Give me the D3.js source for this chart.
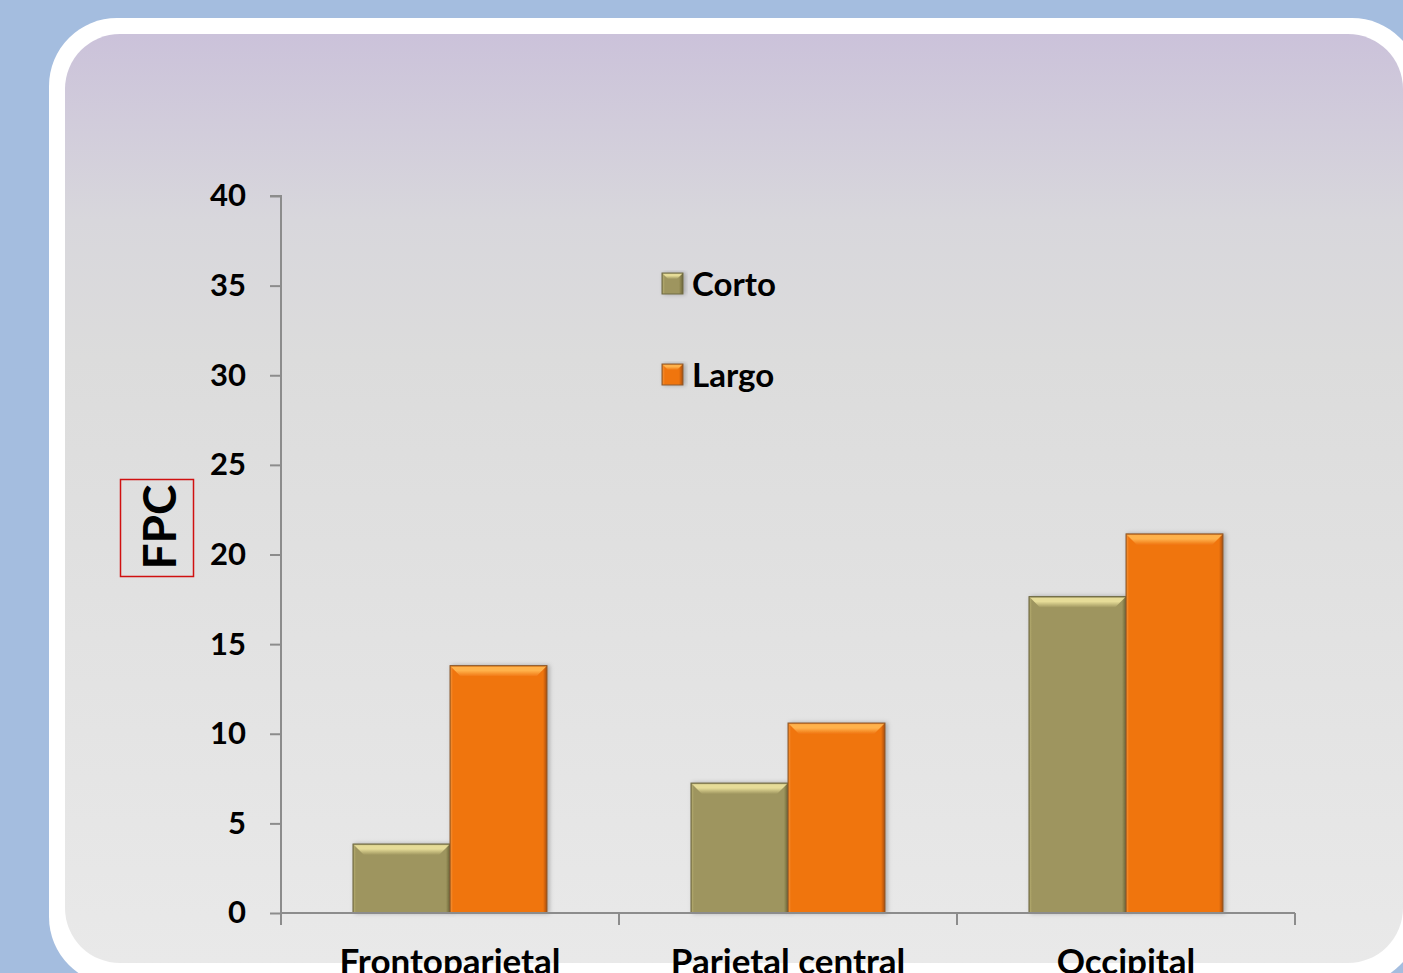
<!DOCTYPE html>
<html><head><meta charset="utf-8">
<script src="https://cdn.jsdelivr.net/npm/d3@7/dist/d3.min.js"></script>
<style>html,body{margin:0;padding:0;background:#a4bddf;overflow:hidden}</style>
</head><body>
<svg id="c" width="1403" height="973"></svg>
<script>
const categories = ["Frontoparietal", "Parietal central", "Occipital"];
const seriesNames = ["Corto", "Largo"];
const corto = [3.85, 7.25, 17.65];
const largo = [13.8, 10.6, 21.15];
const yTicks = [0, 5, 10, 15, 20, 25, 30, 35, 40];

const svg = d3.select("#c");
const defs = svg.append("defs");
const font = "Lato, 'Liberation Sans', sans-serif";

// background
svg.append("rect").attr("width",1403).attr("height",973).attr("fill","#a4bddf");
const pg = defs.append("linearGradient").attr("id","panel").attr("x1",0).attr("y1",0).attr("x2",0).attr("y2",1);
[[0,"#cbc2da"],[0.2,"#d8d7dc"],[0.35,"#dcdcdc"],[1,"#e9e9e9"]].forEach(s=>pg.append("stop").attr("offset",s[0]).attr("stop-color",s[1]));
svg.append("rect").attr("x",49).attr("y",18).attr("width",1371).attr("height",967).attr("rx",68).attr("fill","#ffffff");
svg.append("rect").attr("x",65).attr("y",34).attr("width",1338).attr("height",929).attr("rx",55).attr("fill","url(#panel)");

const y = d3.scaleLinear().domain([0,40]).range([913,196]);
const x0 = d3.scaleBand().domain(categories).range([281,1295]);
const x1 = d3.scaleBand().domain(seriesNames).range([0,x0.bandwidth()]).paddingInner(0).paddingOuter(0.742);

const colors = {
  Corto: {base:"#9e955e", light:"#e6dc98", dark:"#8a8250", side:"#b0a76c", rdark:"#6c6637", edge:"#6f6a45"},
  Largo: {base:"#f07410", light:"#ffb24c", dark:"#d86808", side:"#f38a2a", rdark:"#a84d06", edge:"#8a5a30"}
};
seriesNames.forEach(n=>{
  const c = colors[n];
  const g = defs.append("linearGradient").attr("id","top"+n).attr("x1",0).attr("y1",0).attr("x2",0).attr("y2",1);
  [[0,c.dark],[0.15,c.light],[0.45,c.light],[1,c.base]].forEach(s=>g.append("stop").attr("offset",s[0]).attr("stop-color",s[1]));
  const r = defs.append("linearGradient").attr("id","right"+n).attr("x1",0).attr("y1",0).attr("x2",1).attr("y2",0);
  [[0,c.base],[1,c.rdark]].forEach(s=>r.append("stop").attr("offset",s[0]).attr("stop-color",s[1]));
  const l = defs.append("linearGradient").attr("id","left"+n).attr("x1",0).attr("y1",0).attr("x2",1).attr("y2",0);
  [[0,c.dark],[0.4,c.side],[1,c.base]].forEach(s=>l.append("stop").attr("offset",s[0]).attr("stop-color",s[1]));
});
const sh = defs.append("filter").attr("id","shadow").attr("x","-10%").attr("y","-10%").attr("width","130%").attr("height","130%");
sh.append("feDropShadow").attr("dx",2).attr("dy",0).attr("stdDeviation",2).attr("flood-color","#000").attr("flood-opacity",0.25);

// axes
const yAxis = d3.axisLeft(y).tickValues(yTicks).tickSize(11).tickPadding(24);
const ga = svg.append("g").attr("transform","translate(281,0)").call(yAxis);
ga.select(".domain").attr("stroke","#8c8c8c").attr("stroke-width",2).attr("d","M-11,196H0V913");
ga.selectAll(".tick line").attr("stroke","#8c8c8c").attr("stroke-width",2);
ga.selectAll(".tick text").attr("font-family",font).attr("font-weight","bold").attr("font-size",31).attr("fill","#000");

function bevelBar(g, x, yTop, w, h, n, t){
  const c = colors[n], s = 3;
  t = Math.min(t, h, w/2);
  const bg = g.append("g").attr("filter","url(#shadow)");
  bg.append("rect").attr("x",x).attr("y",yTop).attr("width",w).attr("height",h).attr("fill",c.base);
  bg.append("rect").attr("x",x).attr("y",yTop).attr("width",s).attr("height",h).attr("fill","url(#left"+n+")");
  bg.append("rect").attr("x",x+w-s-1).attr("y",yTop).attr("width",s+1).attr("height",h).attr("fill","url(#right"+n+")");
  bg.append("polygon").attr("points",[[x,yTop],[x+w,yTop],[x+w-t,yTop+t],[x+t,yTop+t]].join(" ")).attr("fill","url(#top"+n+")");
  bg.append("rect").attr("x",x).attr("y",yTop).attr("width",w).attr("height",h).attr("fill","none").attr("stroke",c.edge).attr("stroke-width",1);
}
const barsG = svg.append("g");
categories.forEach((cat,i)=>{
  [["Corto",corto[i]],["Largo",largo[i]]].forEach(([n,v])=>{
    const bx = x0(cat)+x1(n);
    bevelBar(barsG, bx, y(v), x1.bandwidth(), y(0)-y(v), n, 11);
  });
});

const xAxis = d3.axisBottom(x0).tickSize(0).tickPadding(36);
const gx = svg.append("g").attr("transform","translate(0,913)").call(xAxis);
gx.select(".domain").attr("stroke","#8c8c8c").attr("stroke-width",2).attr("d","M281,0H1295");
gx.selectAll(".tick text").attr("font-family",font).attr("font-weight","bold").attr("font-size",35).attr("fill","#000").attr("dy","0.71em");
// category boundary ticks
const bounds = categories.map(c=>x0(c)).concat([x0(categories[categories.length-1])+x0.bandwidth()]);
gx.selectAll("line.bt").data(bounds).enter().append("line").attr("class","bt")
  .attr("x1",d=>d).attr("x2",d=>d).attr("y1",0).attr("y2",12).attr("stroke","#8c8c8c").attr("stroke-width",2);

// legend
const leg = svg.append("g");
seriesNames.forEach((n,i)=>{
  const ly = 273 + i*91;
  const lg = leg.append("g");
  bevelBar(lg, 662, ly, 21, 21, n, 6);
  lg.append("text").attr("x",692).attr("y",ly+23).attr("font-family",font).attr("font-weight","bold").attr("font-size",33).attr("fill","#000").text(n);
});

// y title
svg.append("rect").attr("x",120.5).attr("y",479.5).attr("width",73).attr("height",97).attr("fill","none").attr("stroke","#d01010").attr("stroke-width",1.5);
svg.append("text").attr("transform","translate(176,527) rotate(-90)").attr("text-anchor","middle")
  .attr("font-family",font).attr("font-weight","bold").attr("font-size",46).attr("fill","#000").text("FPC");
</script>
</body></html>
